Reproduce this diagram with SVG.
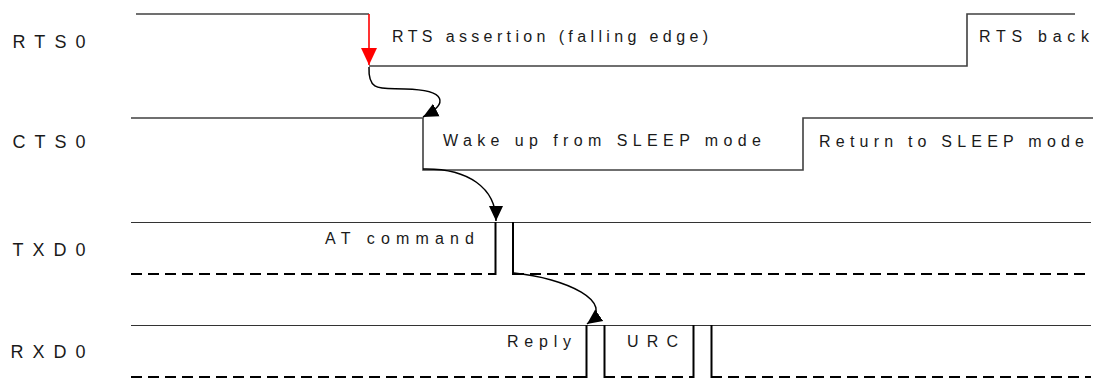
<svg xmlns="http://www.w3.org/2000/svg" width="1104" height="379" viewBox="0 0 1104 379">
<style>
.bg{fill:#ffffff}
.lbl{font-family:"Liberation Sans",Arial,sans-serif;font-size:18px;fill:#1a1a1a}
.txt{font-family:"Liberation Sans",Arial,sans-serif;font-size:16px;fill:#1a1a1a}
.wave{fill:none;stroke:#404040;stroke-width:1.6}
.hi{fill:none;stroke:#333333;stroke-width:1.2}
.dash{fill:none;stroke:#000000;stroke-width:2;stroke-dasharray:11 6}
.edge{fill:none;stroke:#000000;stroke-width:2}
.conn{fill:none;stroke:#000000;stroke-width:1.5}
.red{fill:none;stroke:#ff0000;stroke-width:1.6}
</style>
<defs>
<marker id="ah" markerUnits="userSpaceOnUse" markerWidth="16" markerHeight="16" viewBox="0 0 16 16" refX="15" refY="8" orient="auto">
<path d="M0,1 L15,8 L0,15 Z" fill="#000000"/>
</marker>
<marker id="ahRed" markerUnits="userSpaceOnUse" markerWidth="18" markerHeight="18" viewBox="0 0 18 18" refX="17" refY="9" orient="auto">
<path d="M0,1 L17,9 L0,17 Z" fill="#ff0000"/>
</marker>
</defs>
<rect class="bg" x="0" y="0" width="1104" height="379"/>

<g id="rts0">
<text class="lbl" x="12.5" y="48" textLength="73" lengthAdjust="spacing">RTS0</text>
<polyline class="wave" points="136,14 369,14"/>
<polyline class="wave" points="369,66 967,66 967,14 1075,14"/>
<text class="txt" x="392" y="42" textLength="316" lengthAdjust="spacing">RTS assertion (falling edge)</text>
<text class="txt" x="979" y="42" textLength="110" lengthAdjust="spacing">RTS back</text>
</g>

<g id="cts0">
<text class="lbl" x="12.5" y="148" textLength="73" lengthAdjust="spacing">CTS0</text>
<polyline class="wave" points="131,118 423,118 423,170 803,170 803,118 1093,118"/>
<text class="txt" x="443" y="146" textLength="318" lengthAdjust="spacing">Wake up from SLEEP mode</text>
<text class="txt" x="819" y="147" textLength="265" lengthAdjust="spacing">Return to SLEEP mode</text>
</g>

<g id="txd0">
<text class="lbl" x="12.5" y="256" textLength="73" lengthAdjust="spacing">TXD0</text>
<line class="hi" x1="131" y1="222.5" x2="1091" y2="222.5"/>
<line class="dash" x1="131" y1="274" x2="495" y2="274"/>
<line class="dash" x1="513" y1="274" x2="1091" y2="274"/>
<polyline class="edge" points="494,274 495.5,274 495.5,222"/>
<polyline class="edge" points="513,222 513,274 515,274"/>
<text class="txt" x="325" y="243.5" textLength="149" lengthAdjust="spacing">AT command</text>
</g>

<g id="rxd0">
<text class="lbl" x="10.5" y="358" textLength="75" lengthAdjust="spacing">RXD0</text>
<line class="hi" x1="131" y1="325.5" x2="1091" y2="325.5"/>
<line class="dash" x1="131" y1="377" x2="586" y2="377"/>
<line class="dash" x1="604" y1="377" x2="693" y2="377"/>
<line class="dash" x1="711" y1="377" x2="1091" y2="377"/>
<polyline class="edge" points="584,377 586.5,377 586.5,325"/>
<polyline class="edge" points="604.5,325 604.5,377 607,377"/>
<polyline class="edge" points="690,377 693.5,377 693.5,325"/>
<polyline class="edge" points="711.5,325 711.5,377 714,377"/>
<text class="txt" x="507" y="347" textLength="64" lengthAdjust="spacing">Reply</text>
<text class="txt" x="627" y="347" textLength="51" lengthAdjust="spacing">URC</text>
</g>

<g id="connectors">
<path class="red" d="M369,14 L369,65" marker-end="url(#ahRed)"/>
<path class="conn" d="M369,67 C368,92 380,88 405,89 C448,90 448,104 423,117" marker-end="url(#ah)"/>
<path class="conn" d="M423,169 C468,168 496,188 496,221" marker-end="url(#ah)"/>
<path class="conn" d="M514,273 C565,278 618,302 587,324" marker-end="url(#ah)"/>
</g>
</svg>
